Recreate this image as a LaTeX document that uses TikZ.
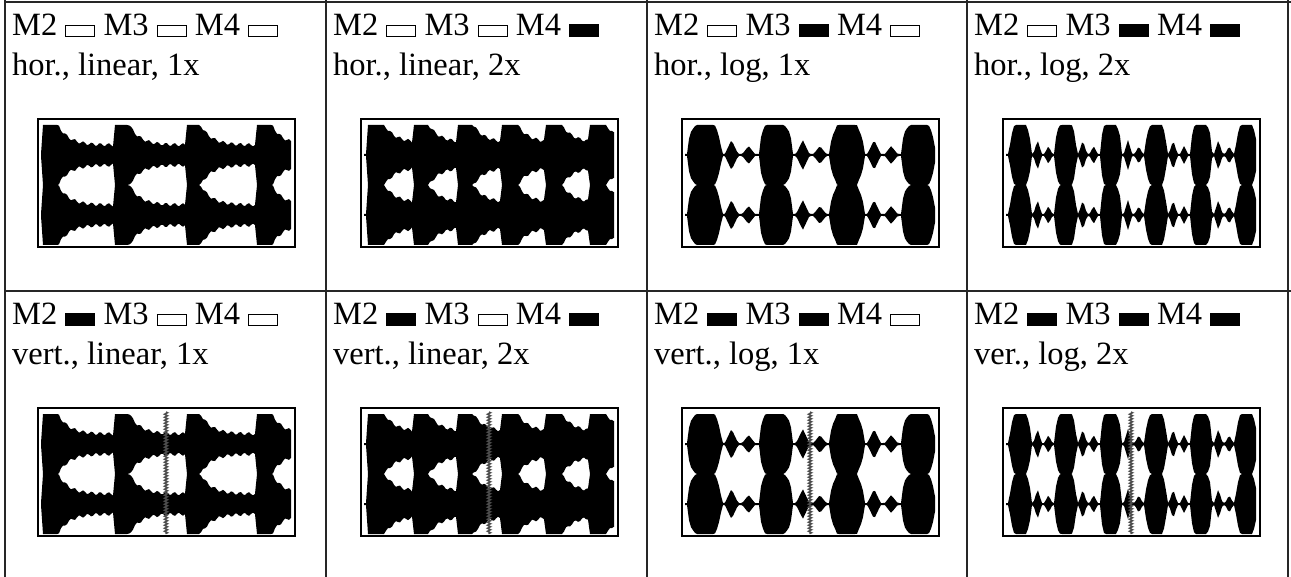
\documentclass[tikz,border=0pt]{standalone}
\usepackage{fontspec}
\setmainfont{Liberation Serif}
\usetikzlibrary{decorations.pathmorphing}
\setlength{\fboxsep}{0pt}
\setlength{\fboxrule}{1pt}
\newcommand{\offbx}{\fbox{\rule{0pt}{10pt}\rule{28pt}{0pt}}}
\newcommand{\onbx}{\rule[-1pt]{30pt}{13pt}}
\newcommand{\bx}[1]{\ifnum#1=1 \onbx\else\offbx\fi}

\begin{document}
\begin{tikzpicture}[x=1pt,y=-1pt,
    grid/.style={draw=black!85,line width=1.4pt},
    frame/.style={draw=black,line width=1.5pt},
    lbl/.style={anchor=base west,inner sep=0pt,font=\fontsize{32.5}{40}\selectfont},
    wave/.style={fill=black},
    zig/.style={draw=black!70,line width=1.4pt,decorate,
      decoration={zigzag,segment length=3pt,amplitude=1.6pt}},
    declare function={
      jit(\tt)=1.6*sin(\tt*137.5);
      tri(\xx,\cc,\hh)=max(0,1-abs(\xx-\cc)/\hh);
      ell(\xx,\cc,\hh)=sqrt(max(0,1-((\xx-\cc)/\hh)^2));
      amplin(\tt,\pp)=min(30,10+2.5*(\pp<60)+22*exp(-max(\tt-14,0)/11)+jit(\tt));
      amplog(\tt,\pp)=min(30,max(1,(36+jit(\tt))*ell(\tt,0.23*\pp,0.24*\pp),
        15*tri(\tt,0.61*\pp,0.1*\pp),9*tri(\tt,0.85*\pp,0.1*\pp)));
    }]

  \path[use as bounding box,fill=white] (0,0) rectangle (1291,577);

  % grid
  \foreach \gx in {5,326,647,967,1288}
    \draw[grid] (\gx,0) -- (\gx,577);
  \draw[grid] (5,2) -- (1291,2);
  \draw[grid] (5,291) -- (1291,291);

  % cells: number / cell x / row y / frame x / M2 / M3 / M4 / text / kind / period / start / marker
  \foreach \i/\cx/\ry/\fx/\ma/\mb/\mc/\txt/\kind/\P/\s/\zig in {
      1/5/2/38/0/0/0/{hor., linear, 1x}/lin/71.3/5/0,
      2/326/2/361/0/0/1/{hor., linear, 2x}/lin/44.4/7/0,
      3/647/2/682/0/1/0/{hor., log, 1x}/log/71.3/6/0,
      4/967/2/1003/0/1/1/{hor., log, 2x}/log/45.2/7/0,
      5/5/291/38/1/0/0/{vert., linear, 1x}/lin/71.3/5/1,
      6/326/291/361/1/0/1/{vert., linear, 2x}/lin/44.4/7/1,
      7/647/291/682/1/1/0/{vert., log, 1x}/log/71.3/6/1,
      8/967/291/1003/1/1/1/{ver., log, 2x}/log/45.2/7/1}{
    \node[lbl] (M0\i) at (\cx+7,\ry+34) {M2 \bx{\ma} M3 \bx{\mb} M4 \bx{\mc}};
    \node[lbl] (D0\i) at (\cx+7,\ry+74) {\txt};

    \pgfmathsetmacro\fy{\ry+117}
    \pgfmathsetmacro\wa{\fx+3}
    \pgfmathsetmacro\wb{\fx+253}
    \pgfmathsetmacro\ws{\fx+\s}
    \foreach \cy in {36,96}{
      \fill[wave]
        plot[variable=\u,domain=\wa:\wb,samples=126]
          (\u,{\fy+\cy-ifthenelse(\u<\ws,1,amp\kind(mod(\u-\ws+10*\P,\P),\P))})
        -- plot[variable=\u,domain=\wb:\wa,samples=126]
          (\u,{\fy+\cy+ifthenelse(\u<\ws,1,amp\kind(mod(\u-\ws+10*\P,\P),\P))})
        -- cycle;
    }
    \draw[frame] (\fx,\fy) rectangle +(257,128);
    \ifnum\zig=1
      \draw[zig] (\fx+128,\fy+4) -- (\fx+128,\fy+126);
    \fi
  }
\end{tikzpicture}
\end{document}
